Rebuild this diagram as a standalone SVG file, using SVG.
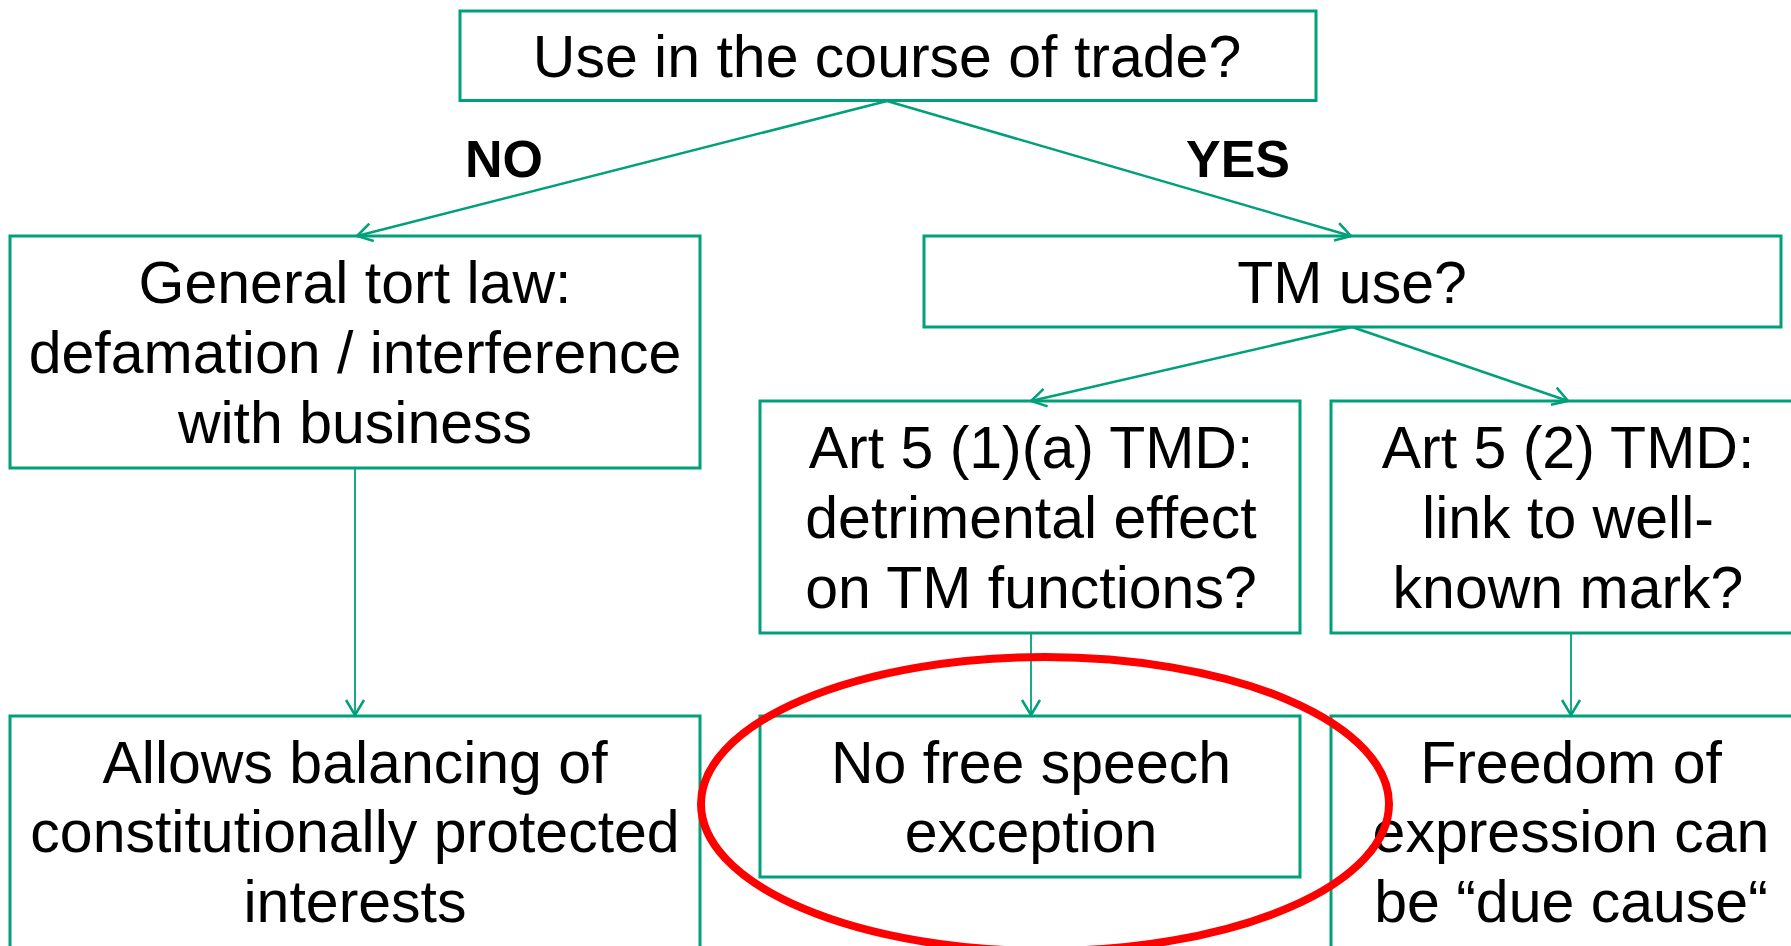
<svg xmlns="http://www.w3.org/2000/svg" width="1791" height="946" viewBox="0 0 1791 946">
<defs>
<style>
.box{fill:#fff;stroke:#00A07A;stroke-width:3}
.t{font-family:"Liberation Sans",Arial,sans-serif;font-size:59px;fill:#000;text-anchor:middle}
.lbl{font-family:"Liberation Sans",Arial,sans-serif;font-size:52px;font-weight:bold;fill:#000}
.c{fill:none;stroke:#00A07A;stroke-width:2.5}
.cv{fill:none;stroke:#00A07A;stroke-width:1.8}
</style>
<marker id="ah" markerUnits="userSpaceOnUse" markerWidth="20" markerHeight="22" refX="16" refY="10" orient="auto" viewBox="0 0 20 20">
<path d="M1,1 L16,10 L1,19" fill="none" stroke="#00A07A" stroke-width="2.5"/>
</marker>
</defs>
<rect width="1791" height="946" fill="#fff"/>
<g id="n-trade">
<rect class="box" x="460" y="11" width="856" height="89.5"/>
<text class="t" x="887" y="77">Use in the course of trade?</text>
</g>
<g id="n-tort">
<rect class="box" x="10" y="236" width="690" height="232"/>
<text class="t" x="355" y="303">General tort law:</text>
<text class="t" x="355" y="373">defamation / interference</text>
<text class="t" x="355" y="443">with business</text>
</g>
<g id="n-tmuse">
<rect class="box" x="924" y="236" width="857" height="91"/>
<text class="t" x="1352" y="303">TM use?</text>
</g>
<g id="n-art51">
<rect class="box" x="760" y="401" width="540" height="232"/>
<text class="t" x="1031" y="468">Art 5 (1)(a) TMD:</text>
<text class="t" x="1031" y="538">detrimental effect</text>
<text class="t" x="1031" y="608">on TM functions?</text>
</g>
<g id="n-art52">
<rect class="box" x="1331" y="401" width="474" height="232"/>
<text class="t" x="1568" y="468">Art 5 (2) TMD:</text>
<text class="t" x="1568" y="538">link to well-</text>
<text class="t" x="1568" y="608">known mark?</text>
</g>
<g id="n-balance">
<rect class="box" x="10" y="716" width="690" height="260"/>
<text class="t" x="355" y="783">Allows balancing of</text>
<text class="t" x="355" y="852">constitutionally protected</text>
<text class="t" x="355" y="922">interests</text>
</g>
<g id="n-nofree">
<rect class="box" x="760" y="716" width="540" height="161"/>
<text class="t" x="1031" y="783">No free speech</text>
<text class="t" x="1031" y="852">exception</text>
</g>
<g id="n-freedom">
<rect class="box" x="1331" y="716" width="474" height="260"/>
<text class="t" x="1571" y="783">Freedom of</text>
<text class="t" x="1571" y="852">expression can</text>
<text class="t" x="1571" y="922">be “due cause“</text>
</g>
<g id="connectors">
<line class="c" x1="887" y1="101" x2="357" y2="236" marker-end="url(#ah)"/>
<line class="c" x1="887" y1="101" x2="1351" y2="236" marker-end="url(#ah)"/>
<line class="cv" x1="355" y1="468" x2="355" y2="715" marker-end="url(#ah)"/>
<line class="c" x1="1352" y1="327" x2="1031" y2="401" marker-end="url(#ah)"/>
<line class="c" x1="1352" y1="327" x2="1568" y2="401" marker-end="url(#ah)"/>
<line class="cv" x1="1031" y1="633" x2="1031" y2="715" marker-end="url(#ah)"/>
<line class="cv" x1="1571" y1="633" x2="1571" y2="715" marker-end="url(#ah)"/>
<text class="lbl" x="465" y="177">NO</text>
<text class="lbl" x="1186" y="177">YES</text>
</g>
<ellipse id="highlight" cx="1045" cy="804" rx="344" ry="147" fill="none" stroke="#FF0000" stroke-width="8"/>
</svg>
